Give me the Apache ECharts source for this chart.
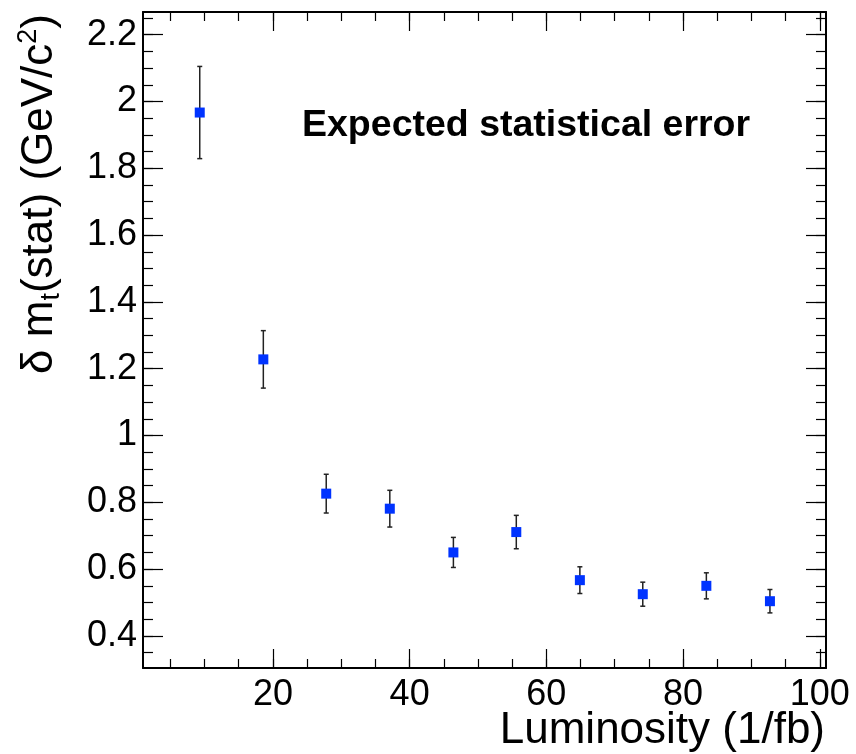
<!DOCTYPE html>
<html>
<head>
<meta charset="utf-8">
<script src="https://cdn.jsdelivr.net/npm/echarts@6/dist/echarts.min.js"></script>
<style>
html,body{margin:0;padding:0;background:#fff;}
#chart{width:856px;height:754px;}
</style>
</head>
<body>
<div id="chart"></div>
<script>
// ---- data ----
var luminosity = [9.3, 18.6, 27.8, 37.1, 46.4, 55.6, 64.9, 74.1, 83.4, 92.7];
var statError  = [1.967, 1.228, 0.826, 0.781, 0.650, 0.711, 0.567, 0.525, 0.550, 0.504];
var statErrorUnc = [0.138, 0.086, 0.058, 0.055, 0.045, 0.050, 0.040, 0.036, 0.039, 0.035];

// ---- axis ticks ----
var xMajorTicks = [20, 40, 60, 80, 100];
var xMinorTicks = [5, 10, 15, 20, 25, 30, 35, 40, 45, 50, 55, 60, 65, 70, 75, 80, 85, 90, 95, 100];
var yMajorTicks = [0.4, 0.6, 0.8, 1, 1.2, 1.4, 1.6, 1.8, 2, 2.2];
var yMinorTicks = [0.35, 0.4, 0.45, 0.5, 0.55, 0.6, 0.65, 0.7, 0.75, 0.8, 0.85, 0.9, 0.95, 1, 1.05, 1.1, 1.15, 1.2, 1.25, 1.3, 1.35, 1.4, 1.45, 1.5, 1.55, 1.6, 1.65, 1.7, 1.75, 1.8, 1.85, 1.9, 1.95, 2, 2.05, 2.1, 2.15, 2.2, 2.25];

var X_MIN = 1.0, X_MAX = 100.9, Y_MIN = 0.304, Y_MAX = 2.268;
var FONT = "'Liberation Sans', Arial, Helvetica, sans-serif";

var chart = echarts.init(document.getElementById('chart'), null, {renderer: 'canvas'});

function xAxisDef(pos, ticks, len, showLabel, showLine) {
  return {
    type: 'value', position: pos, min: X_MIN, max: X_MAX,
    axisLine: {show: showLine, onZero: false, lineStyle: {color: '#000', width: 2}},
    axisTick: {show: true, inside: true, length: len, customValues: ticks, lineStyle: {color: '#000', width: 1.2}},
    axisLabel: showLabel ? {show: true, customValues: ticks, margin: 9, color: '#000', fontSize: 36, fontFamily: FONT} : {show: false},
    splitLine: {show: false}
  };
}
function yAxisDef(pos, ticks, len, showLabel, showLine) {
  return {
    type: 'value', position: pos, min: Y_MIN, max: Y_MAX,
    axisLine: {show: showLine, onZero: false, lineStyle: {color: '#000', width: 2}},
    axisTick: {show: true, inside: true, length: len, customValues: ticks, lineStyle: {color: '#000', width: 1.2}},
    axisLabel: showLabel ? {show: true, customValues: ticks, margin: 6, color: '#000', fontSize: 36, fontFamily: FONT} : {show: false},
    splitLine: {show: false}
  };
}

var seriesData = luminosity.map(function (x, i) { return [x, statError[i], statErrorUnc[i]]; });

var option = {
  backgroundColor: '#fff',
  animation: false,
  grid: {left: 143, right: 30, top: 12, bottom: 86, containLabel: false},
  xAxis: [
    xAxisDef('bottom', xMajorTicks, 19, true, true),
    xAxisDef('bottom', xMinorTicks, 9, false, false),
    xAxisDef('top', xMajorTicks, 19, false, true),
    xAxisDef('top', xMinorTicks, 9, false, false)
  ],
  yAxis: [
    yAxisDef('left', yMajorTicks, 20, true, true),
    yAxisDef('left', yMinorTicks, 10, false, false),
    yAxisDef('right', yMajorTicks, 20, false, true),
    yAxisDef('right', yMinorTicks, 10, false, false)
  ],
  series: [
    {
      type: 'custom',
      xAxisIndex: 0, yAxisIndex: 0,
      data: seriesData,
      renderItem: function (params, api) {
        var x = api.value(0), y = api.value(1), e = api.value(2);
        var top = api.coord([x, y + e]);
        var bot = api.coord([x, y - e]);
        var cw = 2.5;
        var st = {stroke: '#222', lineWidth: 1.5};
        return {
          type: 'group',
          children: [
            {type: 'line', shape: {x1: top[0], y1: top[1], x2: bot[0], y2: bot[1]}, style: st},
            {type: 'line', shape: {x1: top[0] - cw, y1: top[1], x2: top[0] + cw, y2: top[1]}, style: st},
            {type: 'line', shape: {x1: bot[0] - cw, y1: bot[1], x2: bot[0] + cw, y2: bot[1]}, style: st}
          ]
        };
      },
      z: 2
    },
    {
      type: 'scatter',
      xAxisIndex: 0, yAxisIndex: 0,
      symbol: 'rect', symbolSize: 10,
      itemStyle: {color: '#0033ff', opacity: 1},
      data: seriesData.map(function (d) { return [d[0], d[1]]; }),
      z: 3
    }
  ],
  graphic: [
    {
      type: 'text', left: 302, top: 107,
      style: {text: 'Expected statistical error', font: 'bold 37.5px ' + FONT, fill: '#000'}
    },
    {
      type: 'text', right: 31, top: 709,
      style: {text: 'Luminosity (1/fb)', font: '44px ' + FONT, fill: '#000'}
    },
    {
      type: 'text', x: 40, y: 14, rotation: Math.PI / 2,
      style: {
        text: '{a|δ m}{b|t}{a|(stat) (GeV/c}{c|2}{a|)}',
        textAlign: 'right', textVerticalAlign: 'middle',
        rich: {
          a: {fontSize: 44, fontFamily: FONT, color: '#000', lineHeight: 50},
          b: {fontSize: 27, fontFamily: FONT, color: '#000', verticalAlign: 'bottom', lineHeight: 22},
          c: {fontSize: 27, fontFamily: FONT, color: '#000', verticalAlign: 'top', lineHeight: 22}
        }
      }
    }
  ]
};
chart.setOption(option);
</script>
</body>
</html>
